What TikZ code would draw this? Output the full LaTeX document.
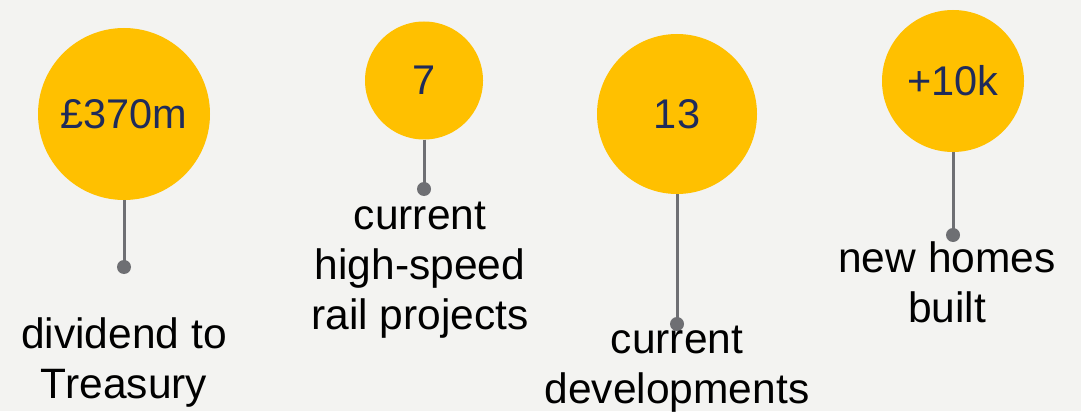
\documentclass[tikz,border=0pt]{standalone}
\usepackage{fontspec}
\setmainfont{Liberation Sans}
\definecolor{statyellow}{RGB}{255, 192, 0}
\definecolor{statnavy}{RGB}{31, 43, 90}
\definecolor{stemgrey}{RGB}{110, 111, 115}
\definecolor{pagegrey}{RGB}{243, 243, 241}
\usetikzlibrary{positioning}
\tikzset{
  bubble/.style={circle, fill=statyellow, inner sep=0pt, text=statnavy,
    font=\fontsize{41.5}{48}\selectfont},
  stem/.style={line width=3pt, stemgrey},
  caption/.style={align=center, anchor=base, font=\fontsize{42.5}{50}\selectfont}
}

\begin{document}
\begin{tikzpicture}[x=1pt, y=-1pt]
  % Background
  \fill[pagegrey] (0, 0) rectangle (1081, 411);

  % Bubbles, stems and captions (caption sits on its last line)
  \foreach \n/\x/\y/\r/\val/\dy/\lx/\ly/\lab in {
      a/124/114/86/{\pounds370m}/267/124/398/{dividend to\\Treasury},
      b/424/80.5/59/{7}/189/420/329/{current\\high-speed\\rail projects},
      c/677/114/80/{13}/324/677/403/{current\\developments},
      d/953/81/71/{+10k}/235/947/322/{new homes\\built}} {
    \node[bubble, minimum size=2*\r] (bub-\n) at (\x, \y) {\val};
    \coordinate (pin-\n) at (\x, \dy);
    \draw[stem] (bub-\n) -- (pin-\n);
    \fill[stemgrey] (pin-\n) circle (7);
    \node[caption] (cap-\n) at (\lx, \ly) {\lab};
  }
\end{tikzpicture}
\end{document}
